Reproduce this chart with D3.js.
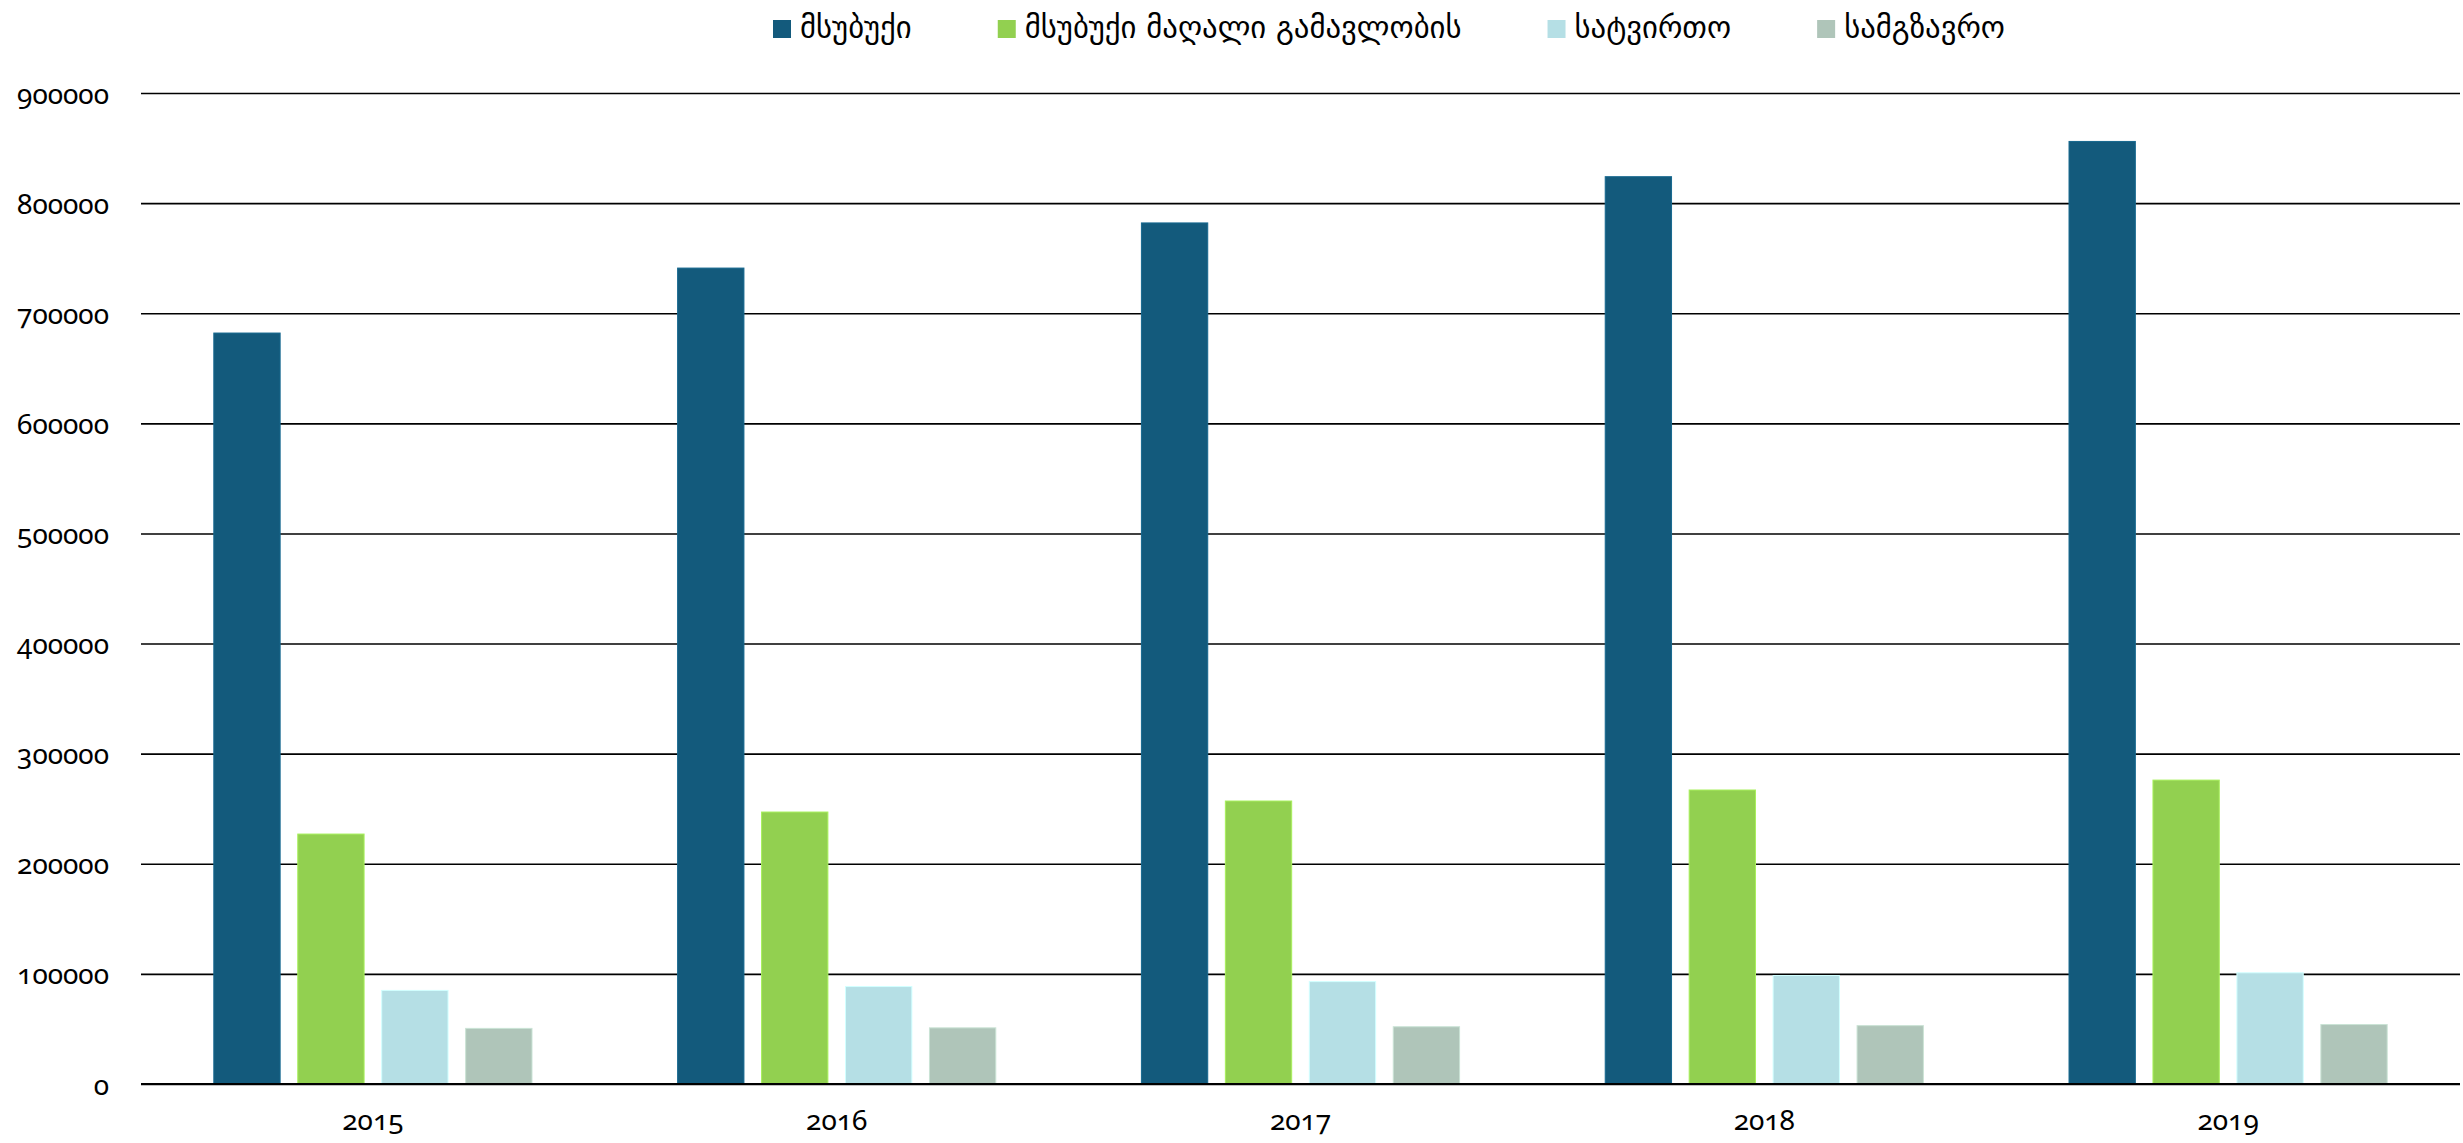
<!DOCTYPE html>
<html lang="ka">
  <head>
    <meta charset="utf-8">
    <title>ავტომობილები</title>
    <script src="https://d3js.org/d3.v7.min.js"></script>
    <style>
      body { margin: 0; background: #fff; }
      .tick text { font-family: "Noto Sans", sans-serif; font-variant-numeric: oldstyle-nums; font-feature-settings: "onum"; }
      .legend text { font-family: "DejaVu Sans Condensed", "DejaVu Sans", sans-serif; }
    </style>
  </head>
  <body>
    <script>
      var years = ["2015", "2016", "2017", "2018", "2019"];
      var seriesNames = ["მსუბუქი", "მსუბუქი მაღალი გამავლობის", "სატვირთო", "სამგზავრო"];
      var light = [682000, 741000, 782000, 824000, 856000];
      var lightOffroad = [227000, 247000, 257000, 267000, 276000];
      var cargo = [85000, 88500, 93000, 98500, 101000];
      var passenger = [50500, 51000, 52000, 53000, 54000];
      var yTicks = [0, 100000, 200000, 300000, 400000, 500000, 600000, 700000, 800000, 900000];
      var colors = ["#135a7c", "#92d050", "#b5dfe5", "#afc5b9"];
      var allSeries = [light, lightOffroad, cargo, passenger];

      var w = 2463;
      var h = 1143;
      var margin = {top: 93, right: 3, bottom: 59, left: 141};

      var svg = d3.select("body")
          .append("svg")
          .attr("width", w)
          .attr("height", h);

      var x0 = d3.scaleBand()
          .domain(years)
          .range([margin.left, w - margin.right]);
      var groupPad = x0.bandwidth() * 0.157;
      var x1 = d3.scaleBand()
          .domain(d3.range(seriesNames.length))
          .range([groupPad, x0.bandwidth() - groupPad])
          .paddingInner(0.21);
      var y = d3.scaleLinear()
          .domain([0, 900000])
          .range([h - margin.bottom, margin.top]);

      // gridlines + labels
      var yAxis = d3.axisLeft(y)
          .tickValues(yTicks)
          .tickSize(-(w - margin.left - margin.right))
          .tickPadding(32)
          .tickFormat(d3.format("d"));
      var gy = svg.append("g")
          .attr("transform", "translate(" + margin.left + ",0)")
          .call(yAxis);
      gy.select(".domain").remove();
      gy.selectAll(".tick line")
          .attr("stroke", "#000")
          .attr("stroke-width", 1.6);
      gy.selectAll(".tick text")
          .attr("fill", "#000")
          .attr("font-size", 28)
          .attr("dy", "0.36em");

      // bars
      var groups = svg.selectAll("g.year")
          .data(years)
          .enter()
          .append("g")
          .attr("class", "year")
          .attr("transform", d => "translate(" + x0(d) + ",0)");
      groups.selectAll("rect")
          .data((d, i) => allSeries.map((s, k) => ({k: k, v: s[i]})))
          .enter()
          .append("rect")
          .attr("x", d => x1(d.k))
          .attr("width", x1.bandwidth())
          .attr("y", d => y(d.v))
          .attr("height", d => y(0) - y(d.v))
          .attr("fill", d => colors[d.k])
          .attr("stroke", d => d3.color(colors[d.k]).brighter(0.4))
          .attr("stroke-width", 1);

      // baseline on top
      svg.append("line")
          .attr("x1", margin.left)
          .attr("x2", w - margin.right)
          .attr("y1", y(0))
          .attr("y2", y(0))
          .attr("stroke", "#000")
          .attr("stroke-width", 2);

      // x labels
      var xAxis = d3.axisBottom(x0).tickSize(0).tickPadding(26);
      var gx = svg.append("g")
          .attr("transform", "translate(0," + y(0) + ")")
          .call(xAxis);
      gx.select(".domain").remove();
      gx.selectAll(".tick text")
          .attr("fill", "#000")
          .attr("font-size", 28);

      // legend
      var legend = svg.append("g").attr("class", "legend");
      var items = legend.selectAll("g")
          .data(seriesNames)
          .enter()
          .append("g");
      items.append("rect")
          .attr("width", 18)
          .attr("height", 18)
          .attr("y", 20)
          .attr("fill", (d, i) => colors[i]);
      var labels = items.append("text")
          .attr("x", 27)
          .attr("y", 38)
          .attr("font-size", 31)
          .attr("fill", "#000")
          .text(d => d);
      var widths = [];
      labels.each(function() { widths.push(this.getComputedTextLength()); });
      var gap = 86;
      var target = 2005 - 773;
      var k = (target - seriesNames.length * 27 - (seriesNames.length - 1) * gap) / d3.sum(widths);
      labels.attr("textLength", (d, i) => widths[i] * k).attr("lengthAdjust", "spacingAndGlyphs");
      var xpos = 773;
      items.attr("transform", function(d, i) {
        var t = "translate(" + xpos + ",0)";
        xpos += 27 + widths[i] * k + gap;
        return t;
      });
    </script>
  </body>
</html>
